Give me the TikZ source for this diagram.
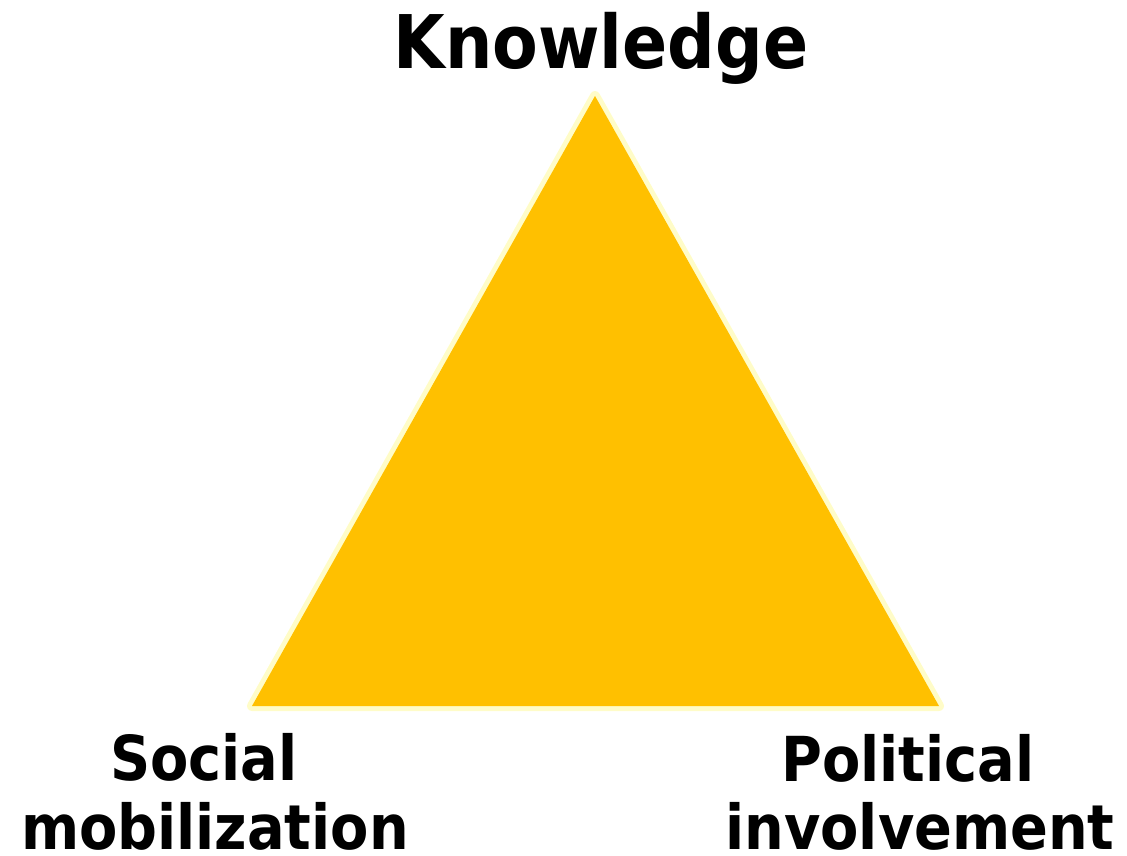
\documentclass[tikz,border=0pt]{standalone}
\usepackage{fontspec}
\newfontfamily\labfont{DejaVu Sans Condensed}
\definecolor{gold}{HTML}{FFC000}
\definecolor{glow}{HTML}{FFFCC8}
\begin{document}
\begin{tikzpicture}[x=1pt,y=-1pt,
  lab/.style={inner sep=0pt,anchor=base,font=\labfont\bfseries\fontsize{62}{62}\selectfont},
  title/.style={inner sep=0pt,anchor=base,font=\labfont\bfseries\fontsize{74}{74}\selectfont}]
\useasboundingbox (0,0) rectangle (1127,856);
\coordinate (top) at (595,96);
\coordinate (bl) at (252,706);
\coordinate (br) at (939,706);
\draw[glow,line width=10pt,line join=round] (top) -- (bl) -- (br) -- cycle;
\fill[gold] (top) -- (bl) -- (br) -- cycle;
\node[title] (know) at (601,69) {Knowledge};
\node[lab] (soc1) at (204,780) {Social};
\node[lab] (soc2) at (215,849) {mobilization};
\node[lab] (pol1) at (908,781) {Political};
\node[lab] (pol2) at (920,849) {involvement};
\end{tikzpicture}
\end{document}
